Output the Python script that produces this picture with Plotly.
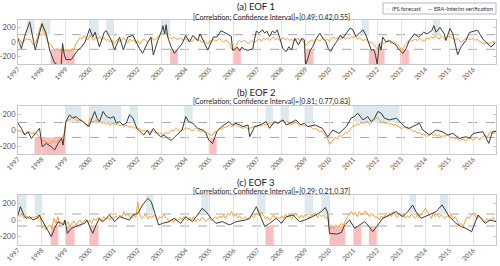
import plotly.graph_objects as go

# ---------------- tick labels / time grid ----------------
YEARS = list(range(1997, 2017))
YEAR_LABELS = [str(y) for y in YEARS]
MONTHS = [1997 + i / 12 for i in range(240)]

# ---------------- panel (a) EOF 1 ----------------
a_fc = [
    60, 30, -20, 20, 50, 30, 40, -10, -50, 0, 80, 200,
    254, 150, 60, 0, -20, -60, -100, -110, -90, -120, -100, -110,
    -120, -100, -130, -90, -110, -30, 20, 60, 40, 90, 50, 30,
    90, 60, 20, 70, 40, 80, 30, 60, 20, 40, 0, 30,
    -20, 10, 40, 0, 30, 60, 20, -10, 40, 10, 30, -20,
    20, -30, 10, 40, 20, -10, 30, 60, 20, 40, 60, 90,
    120, 100, 130, 80, 60, 40, 70, 50, 30, 60, 40, 20,
    50, 20, 40, 0, 30, 60, 10, 30, -10, 20, 0, -30,
    20, 0, 40, 10, 30, 50, 20, 0, 30, 10, -20, -100,
    -110, -60, 0, 20, -10, 20, 10, -20, -10, 20, 0, 10,
    20, 40, 10, 50, 30, 60, 20, 40, 70, 30, 50, 20,
    40, 60, 30, 50, 20, 40, 10, 30, 50, 20, 40, 0,
    -50, -20, 10, 30, 0, 20, 40, 10, 30, 60, 20, 40,
    10, 50, 70, 40, 60, 30, 50, 80, 40, 60, 50, 70,
    60, 80, 40, 60, 30, 20, 40, 10, -10, 0, -20, -60,
    -100, -40, 0, -30, -10, 20, 0, -20, 10, -10, -30, -60,
    -110, -80, -30, 0, 20, 10, 30, 40, 20, 50, 30, 10,
    30, 60, 40, 70, 50, 90, 60, 40, 80, 50, 30, 60,
    90, 60, 40, 20, 50, 30, 0, 20, 40, 60, 30, 40,
    50, 20, 40, 10, 0, -10, -30, 0, -20, -10, 10, 0,
]
a_obs_t = [1997.00, 1997.14, 1997.30, 1997.49, 1997.72, 1997.88, 1998.00, 1998.18, 1998.32, 1998.53,
           1998.70, 1998.80, 1998.86, 1998.92, 1999.00, 1999.22, 1999.40, 1999.50, 1999.65, 1999.80,
           1999.99, 2000.12, 2000.22, 2000.40, 2000.60, 2000.68, 2000.90, 2001.03, 2001.24, 2001.40,
           2001.58, 2001.80, 2002.07, 2002.20, 2002.42, 2002.55, 2002.65, 2002.83, 2003.00, 2003.05,
           2003.12, 2003.18, 2003.25, 2003.39, 2003.53, 2003.67, 2003.85, 2004.00, 2004.15, 2004.30,
           2004.50, 2004.60, 2004.80, 2004.92, 2005.15, 2005.30, 2005.47, 2005.70, 2005.90, 2005.96,
           2006.05, 2006.15, 2006.25, 2006.34, 2006.45, 2006.60, 2006.80, 2006.88, 2006.95, 2007.05,
           2007.20, 2007.30, 2007.38, 2007.50, 2007.62, 2007.72, 2007.82, 2007.92, 2008.05, 2008.20,
           2008.30, 2008.42, 2008.55, 2008.70, 2008.85, 2008.95, 2009.00, 2009.10, 2009.20, 2009.30,
           2009.45, 2009.60, 2009.72, 2009.85, 2009.95, 2010.05, 2010.15, 2010.30, 2010.45, 2010.55,
           2010.70, 2010.86, 2010.98, 2011.10, 2011.25, 2011.40, 2011.52, 2011.63, 2011.75, 2011.85,
           2011.92, 2011.99, 2012.08, 2012.15, 2012.22, 2012.36, 2012.50, 2012.78, 2012.92, 2013.06,
           2013.20, 2013.33, 2013.55, 2013.72, 2013.93, 2014.07, 2014.27, 2014.36, 2014.45, 2014.61,
           2014.79, 2014.86, 2015.03, 2015.15, 2015.35, 2015.50, 2015.70, 2015.84, 2016.18, 2016.40,
           2016.60, 2016.74, 2016.95]
a_obs_v = [45, -90, 100, 275, -110, 100, 250, 110, -110, -290,
           -320, -320, -20, -150, -240, -240, -150, -110, -70, 0,
           180, 67, 133, -67, 133, 155, 20, -110, 67, -110,
           67, 90, -90, -155, 0, 67, -178, 20, 155, 222,
           110, 235, 67, -67, -155, -90, -22, 90, 0, 90,
           20, 110, -22, -110, 67, 67, 155, 110, 80, -115,
           -100, -70, -120, -70, -100, -115, -90, 50, 150, 120,
           165, 120, 150, 75, 150, 120, 165, 60, -90, -130,
           -65, -110, 50, -40, 50, 30, -310, -225, -110, -65,
           50, 120, 50, 5, -90, -130, -65, 5, 95, 50,
           120, 190, 165, 75, 120, 165, 95, 0, -115, -100,
           -178, -300, -22, -110, 67, 0, 20, -45, -110, -155,
           -90, 20, 110, 67, 133, 110, 155, 222, 133, 200,
           110, 20, 185, 110, -174, -60, 23, 130, 161, 40,
           -30, -69, 0]
a_pos = [[1997.375, 1997.69], [1998.0, 1998.35], [2000.01, 2000.36], [2000.68, 2001.0],
         [2002.97, 2003.35], [2011.35, 2011.64], [2014.31, 2014.61]]
a_neg = [[1998.36, 1999.36], [2003.35, 2003.67], [2005.96, 2006.3], [2008.96, 2009.34],
         [2011.64, 2012.3], [2012.95, 2013.31]]

# ---------------- panel (b) EOF 2 ----------------
b_fc = [
    -20, -10, -30, -50, -30, -40, -20, -50, -30, -40, -60, -100,
    -126, -140, -150, -160, -170, -150, -140, -160, -130, -120, -100, -60,
    110, 120, 130, 150, 170, 130, 110, 140, 120, 90, 60, 40,
    150, 110, 100, 130, 90, 120, 80, 100, 70, 90, 60, 80,
    90, 60, 80, 50, 70, 40, 60, 50, 30, 50, 20, 30,
    10, 20, -10, 0, -20, -10, -30, 0, -20, -40, -30, -50,
    -40, -60, -30, -50, -20, 0, -10, 20, 0, -10, 10, 0,
    30, 10, 20, -10, 0, 20, 0, -10, -20, 0, -30, -40,
    -50, -70, -40, -20, 0, 20, 10, 40, 30, 50, 60, 40,
    60, 70, 50, 40, 30, 20, 40, 10, 20, 30, 40, 50,
    40, 60, 50, 80, 60, 70, 90, 60, 80, 100, 90, 110,
    120, 100, 90, 110, 80, 70, 90, 100, 80, 60, 70, 50,
    60, 40, 50, 30, 10, 20, 0, -20, -10, -40, -60, -100,
    -180, -150, -120, -90, -110, -70, -80, -50, -30, -40, -10, 30,
    60, 50, 80, 70, 100, 80, 90, 110, 70, 100, 120, 140,
    160, 130, 90, 110, 80, 90, 70, 80, 60, 70, 50, 40,
    20, 30, 40, 10, 20, 0, -20, -10, -40, -30, -60, -50,
    -70, -80, -60, -40, -70, -50, -80, -60, -90, -70, -80, -60,
    -80, -100, -90, -110, -100, -130, -120, -110, -140, -120, -100, -110,
    -130, -100, -90, -120, -100, -80, -60, -90, -40, -20, -50, -20,
]
b_obs_t = [1997.00, 1997.14, 1997.28, 1997.42, 1997.56, 1997.69, 1997.90, 1998.01, 1998.18, 1998.39,
           1998.53, 1998.67, 1998.82, 1998.88, 1998.94, 1999.00, 1999.15, 1999.29, 1999.43, 1999.57,
           1999.71, 1999.85, 1999.96, 2000.20, 2000.30, 2000.40, 2000.55, 2000.70, 2000.85, 2001.00,
           2001.10, 2001.24, 2001.38, 2001.52, 2001.65, 2001.80, 2001.88, 2001.96, 2002.10, 2002.25,
           2002.40, 2002.50, 2002.65, 2002.80, 2002.95, 2003.10, 2003.25, 2003.40, 2003.55, 2003.70,
           2003.85, 2004.00, 2004.12, 2004.30, 2004.50, 2004.70, 2004.85, 2004.96, 2005.12, 2005.30,
           2005.50, 2005.80, 2005.95, 2006.10, 2006.40, 2006.60, 2006.67, 2006.88, 2007.10, 2007.36,
           2007.50, 2007.70, 2007.85, 2008.06, 2008.20, 2008.35, 2008.60, 2008.80, 2008.95, 2009.10,
           2009.40, 2009.70, 2009.93, 2010.14, 2010.40, 2010.70, 2010.90, 2011.04, 2011.18, 2011.40,
           2011.60, 2011.74, 2011.88, 2012.02, 2012.16, 2012.30, 2012.50, 2012.80, 2012.92, 2013.13,
           2013.33, 2013.75, 2013.90, 2014.17, 2014.45, 2014.70, 2014.94, 2015.15, 2015.42, 2015.70,
           2015.84, 2016.00, 2016.40, 2016.65, 2016.80, 2016.95]
b_obs_v = [84, 21, -63, -21, -105, -55, 21, -210, -168, -210,
           -250, -168, -105, -189, -63, 105, 190, 147, 168, 126,
           105, 63, 42, 232, 147, 105, 232, 168, 147, 168,
           84, 105, 63, 84, 190, 147, 84, 21, -21, -63,
           0, -63, 21, -42, -84, -63, -105, -130, -84, -42,
           0, 168, 105, 84, 21, 0, -42, -126, -168, -21,
           42, 105, 63, 84, 42, 63, -84, 42, 63, 105,
           21, 105, 84, 126, 63, 84, 126, 63, 84, 42,
           63, 21, -84, 0, -42, 42, 147, 168, 210, 126,
           168, 105, 147, 232, 210, 147, 126, 147, 105, 42,
           21, 84, 0, -63, 0, -21, -63, -42, -105, -84,
           -105, -42, -21, -168, -21, -21]
b_pos = [[1998.99, 1999.64], [1999.96, 2001.31], [2001.65, 2001.96], [2003.94, 2004.29],
         [2007.33, 2007.64], [2007.96, 2008.31], [2008.96, 2009.31], [2010.98, 2012.92]]
b_neg = [[1997.69, 1998.99], [2004.96, 2005.29]]

# ---------------- panel (c) EOF 3 ----------------
c_fc = [
    60, 40, 80, 20, 50, 30, 10, 40, 20, 50, 10, 60,
    -100, -60, -120, -80, -60, -100, 20, -40, 40, -80, -60, -20,
    -60, -20, -80, -40, -10, -60, -30, 0, -40, -20, 10, -30,
    0, -40, 20, -10, 30, 0, -20, 40, 10, 30, 0, 40,
    20, 50, 10, 60, 30, 100, 50, 80, 40, 20, 60, 30,
    220, 60, 20, 40, 80, 10, 50, 20, 60, 30, 0, 40,
    20, 60, 30, 0, -20, 10, -30, 20, -10, 30, 0, 40,
    20, -10, 30, 0, 40, -20, 10, -10, 30, 20, -20, 10,
    30, -10, 20, 40, 10, 50, 30, 60, 20, 80, 60, 100,
    40, 70, 30, 50, 10, 20, 40, 10, 20, 60, 30, 70,
    80, 50, 100, 60, 10, 40, -10, 30, 60, 20, 40, 10,
    50, 20, 70, 30, 60, 10, 40, 80, 50, 20, 60, 30,
    70, 40, 20, 60, 50, 80, 30, 70, 40, 60, 20, 40,
    -120, -80, -100, -60, -80, -70, -40, -60, 0, 40, 80, 100,
    60, 90, 40, 100, 60, 80, 110, 70, 40, 80, 50, 30,
    40, 0, 50, 20, 60, 30, 80, 40, 100, 60, 30, 70,
    40, 60, 20, 50, 30, 70, 40, 20, 60, 40, 80, 100,
    140, 100, 60, 20, 80, 40, 70, 30, 60, 40, 20, 50,
    30, 60, 10, 40, -20, -60, -40, -80, 0, 40, 20, 60,
    80, 40, 10, 50, 30, 0, -20, 20, -10, 10, 30, -20,
]
c_obs_t = [1997.00, 1997.10, 1997.24, 1997.35, 1997.49, 1997.63, 1997.78, 1997.88, 1998.00, 1998.18,
           1998.32, 1998.39, 1998.53, 1998.67, 1998.82, 1998.90, 1998.96, 1999.06, 1999.22, 1999.36,
           1999.57, 1999.78, 1999.88, 2000.05, 2000.12, 2000.26, 2000.40, 2000.54, 2000.82, 2001.03,
           2001.24, 2001.44, 2001.65, 2001.80, 2002.00, 2002.20, 2002.42, 2002.56, 2002.70, 2002.87,
           2003.03, 2003.31, 2003.51, 2003.79, 2004.00, 2004.28, 2004.49, 2004.68, 2004.85, 2005.06,
           2005.26, 2005.54, 2005.82, 2006.10, 2006.50, 2006.67, 2006.95, 2007.09, 2007.30, 2007.50,
           2007.78, 2007.99, 2008.20, 2008.48, 2008.75, 2008.97, 2009.30, 2009.65, 2009.83, 2009.93,
           2010.00, 2010.30, 2010.50, 2010.63, 2010.84, 2011.05, 2011.25, 2011.46, 2011.60, 2011.81,
           2012.02, 2012.23, 2012.50, 2012.78, 2013.06, 2013.27, 2013.47, 2013.61, 2013.82, 2014.17,
           2014.45, 2014.70, 2014.86, 2015.00, 2015.28, 2015.50, 2015.70, 2015.93, 2016.20, 2016.50,
           2016.70, 2016.95]
c_obs_v = [60, 160, 60, 20, 40, 0, 20, 60, 0, -100,
           -180, -200, -100, -20, -40, -60, 0, -160, -100, -80,
           -60, -40, 0, -120, -160, -60, 20, -20, 60, -20,
           40, 20, 0, 60, 80, 180, 260, 220, 100, -60,
           -40, -20, 20, -40, 40, -20, 60, 140, 100, 20,
           -40, -20, -60, -20, 0, 20, 160, 60, -80, -40,
           20, -40, 40, 60, -20, 0, 40, 100, 150, 80,
           -160, -170, -150, -60, 0, -100, -60, -20, -60, -140,
           -60, 20, 60, 100, 40, 100, 180, 100, 20, 60,
           100, 182, 100, 40, -40, -80, -100, -142, 60, -40,
           0, -20]
c_pos = [[1997.0, 1997.35], [1997.69, 1998.01], [2002.35, 2002.65], [2004.65, 2004.96],
         [2006.98, 2007.33], [2008.96, 2009.31], [2009.66, 2009.98], [2013.34, 2013.61],
         [2014.61, 2014.95]]
c_neg = [[1998.36, 1998.68], [1998.99, 1999.36], [1999.99, 2000.36], [2007.33, 2007.67],
         [2009.98, 2010.66], [2010.98, 2011.32], [2011.64, 2011.97]]

TITLES = ["(a) EOF 1", "(b) EOF 2", "(c) EOF 3"]
SUBTITLES = [
    "[Correlation; Confidence Interval]=[0.49; 0.42,0.55]",
    "[Correlation; Confidence Interval]=[0.81; 0.77,0.83]",
    "[Correlation; Confidence Interval]=[0.29; 0.21,0.37]",
]
THRESHOLDS = [100, 93, 72]
Y_TICKS = [-200, 0, 200]
SERIES_NAMES = ["IFS forecast", "ERA-Interim verification"]

# ---------------- style ----------------
ORANGE = "#F5A03A"
DARK = "#3a3a3a"
BLUE_FILL = "#dce9ed"
RED_FILL = "#f7bfc0"
GRID = "#e2e2e2"
AXLINE = "#c8c8c8"
FONT = "Lato"
H = 266
PANEL_PX = [(20, 64), (106, 154), (195, 245)]
TITLE_PX = [(7, 17.5), (92, 102), (182, 191)]
PLOT_L, PLOT_R = 18, 496
W = PLOT_R - PLOT_L


def px_x(px):
    return (px - PLOT_L) / W


def px_y(py):
    return 1 - py / H


panels = [
    (a_fc, a_obs_t, a_obs_v, a_pos, a_neg),
    (b_fc, b_obs_t, b_obs_v, b_pos, b_neg),
    (c_fc, c_obs_t, c_obs_v, c_pos, c_neg),
]

fig = go.Figure()
shapes = []
annotations = []
YR = 300
for i, (fc, ot, ov, pos, neg) in enumerate(panels):
    xa = "x" if i == 0 else f"x{i+1}"
    ya = "y" if i == 0 else f"y{i+1}"
    fig.add_trace(go.Scatter(x=MONTHS, y=fc, mode="lines", name=SERIES_NAMES[0],
                             line=dict(color=ORANGE, width=1), xaxis=xa, yaxis=ya,
                             showlegend=False, hoverinfo="skip"))
    fig.add_trace(go.Scatter(x=ot, y=ov, mode="lines", name=SERIES_NAMES[1],
                             line=dict(color=DARK, width=1), xaxis=xa, yaxis=ya,
                             showlegend=False, hoverinfo="skip"))
    th = THRESHOLDS[i]
    for x0, x1 in pos:
        shapes.append(dict(type="rect", xref=xa, yref=ya, x0=x0, x1=x1, y0=th, y1=YR,
                           fillcolor=BLUE_FILL, line=dict(width=0), layer="below"))
    for x0, x1 in neg:
        shapes.append(dict(type="rect", xref=xa, yref=ya, x0=x0, x1=x1, y0=-YR, y1=-th,
                           fillcolor=RED_FILL, line=dict(width=0), layer="below"))
    for s in (th, -th):
        shapes.append(dict(type="line", xref=f"{xa} domain", yref=ya, x0=0, x1=1, y0=s, y1=s,
                           line=dict(color="#a8a8a8", width=1, dash="dash"), layer="below"))
    top, bot = PANEL_PX[i]
    dom = [px_y(bot), px_y(top)]
    xkey = "xaxis" if i == 0 else f"xaxis{i+1}"
    ykey = "yaxis" if i == 0 else f"yaxis{i+1}"
    fig.update_layout(**{
        xkey: dict(domain=[0, 1], anchor=ya, range=[1997, 2016.95],
                   tickvals=YEARS, ticktext=YEAR_LABELS, tickangle=-45,
                   tickfont=dict(size=6.5, color="#555", family=FONT),
                   ticklabelstandoff=-2,
                   showgrid=True, gridcolor=GRID, gridwidth=1,
                   showline=True, linecolor=AXLINE, mirror=True, zeroline=False,
                   ticks="", automargin=False),
        ykey: dict(domain=dom, anchor=xa, range=[-YR, YR], tickvals=Y_TICKS,
                   ticktext=[str(v) for v in Y_TICKS],
                   tickfont=dict(size=7.5, color="#555", family=FONT),
                   showgrid=False, zeroline=False, showline=True, linecolor=AXLINE,
                   mirror="ticks", ticks="inside", ticklen=3, tickcolor=AXLINE,
                   automargin=False),
    })
    tpy, spy = TITLE_PX[i]
    annotations.append(dict(text=TITLES[i], xref="paper", yref="paper",
                            x=px_x(256), y=px_y(tpy),
                            xanchor="center", yanchor="middle", showarrow=False,
                            font=dict(size=9.5, color="#222", family=FONT)))
    annotations.append(dict(text=SUBTITLES[i], xref="paper", yref="paper",
                            x=px_x(271), y=px_y(spy),
                            xanchor="center", yanchor="middle", showarrow=False,
                            font=dict(size=7, color="#222", family=FONT)))

# legend: framed box with two text entries carrying coloured dashes
shapes.append(dict(type="rect", xref="paper", yref="paper",
                   x0=px_x(383), x1=px_x(496), y0=px_y(14), y1=px_y(3),
                   line=dict(color="#b8b8b8", width=1), fillcolor="white", layer="above"))
annotations.append(dict(text=f"<span style='color:{ORANGE}'>—</span> {SERIES_NAMES[0]}",
                        xref="paper", yref="paper", x=px_x(384), y=px_y(8.5),
                        xanchor="left", yanchor="middle", showarrow=False,
                        font=dict(size=5.6, color="#333", family=FONT)))
annotations.append(dict(text=f"<span style='color:{DARK}'>—</span> {SERIES_NAMES[1]}",
                        xref="paper", yref="paper", x=px_x(495), y=px_y(8.5),
                        xanchor="right", yanchor="middle", showarrow=False,
                        font=dict(size=5.6, color="#333", family=FONT)))

fig.update_layout(width=500, height=266, margin=dict(l=PLOT_L, r=500 - PLOT_R, t=0, b=0),
                  paper_bgcolor="white", plot_bgcolor="white", showlegend=False,
                  hovermode=False,
                  shapes=shapes, annotations=annotations, font=dict(family=FONT))
# remove the browser's default 8px body margin so the figure fills the 500x266 window
fig.write_html("out.html",
               config={"displayModeBar": False, "staticPlot": True},
               post_script="document.body.style.margin='0';document.body.style.overflow='hidden';")
